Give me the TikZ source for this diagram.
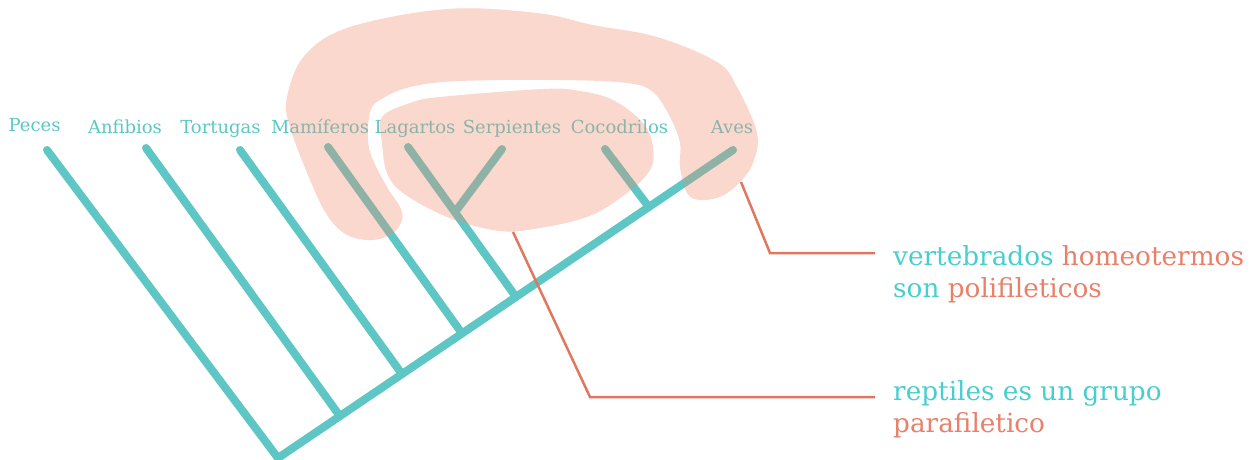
\documentclass[tikz,border=0pt]{standalone}
\usepackage{fontspec}
\setmainfont{DejaVu Serif}
\usetikzlibrary{calc}
\definecolor{treeteal}{RGB}{94,198,196}
\definecolor{labteal}{RGB}{91,200,197}
\definecolor{txtteal}{RGB}{72,206,206}
\definecolor{txtorange}{RGB}{232,128,106}
\definecolor{lineorange}{RGB}{224,120,95}
\definecolor{blobc}{RGB}{240,140,112}
\tikzset{
  branch/.style={draw=treeteal, line width=8pt, line cap=round, line join=round},
  taxon/.style={text=labteal, font=\fontsize{18}{20}\selectfont, anchor=base, inner sep=0pt},
  blob/.style={fill=blobc, fill opacity=0.34},
  pointer/.style={draw=lineorange, line width=2.5pt},
  note/.style={font=\fontsize{26.3}{32}\selectfont, align=left, anchor=base west, inner sep=0pt}
}
\begin{document}
\begin{tikzpicture}[x=1pt,y=-1pt]
\useasboundingbox (0,0) rectangle (1255,459);
% tree
\coordinate (root) at (278,458);
\coordinate (tAves) at (733,150);
\coordinate (tPeces) at (47,150);
\coordinate (tAnf) at (146,148);
\coordinate (tTort) at (240,150);
\coordinate (tMam) at (328,147);
\coordinate (tLag) at (408,147);
\coordinate (tSerp) at (502,149);
\coordinate (tCoc) at (605,149);
\coordinate (jAnf) at ($(root)!0.136!(tAves)$);
\coordinate (jTort) at ($(root)!0.2725!(tAves)$);
\coordinate (jMam) at ($(root)!0.4044!(tAves)$);
\coordinate (jLag) at ($(root)!0.523!(tAves)$);
\coordinate (jCoc) at ($(root)!0.815!(tAves)$);
\coordinate (jSerp) at ($(tLag)!0.435!(jLag)$);
\draw[branch] (tPeces) -- (root) -- (tAves);
\draw[branch] (tAnf) -- (jAnf);
\draw[branch] (tTort) -- (jTort);
\draw[branch] (tMam) -- (jMam);
\draw[branch] (tLag) -- (jLag);
\draw[branch] (tSerp) -- (jSerp);
\draw[branch] (tCoc) -- (jCoc);
% labels
\node[taxon] (lPeces) at (34.5,131) {Peces};
\node[taxon] (lAnf) at (125,133) {Anfibios};
\node[taxon] (lTort) at (220.5,133) {Tortugas};
\node[taxon] (lMam) at (320,133) {Mamíferos};
\node[taxon] (lLag) at (415,133) {Lagartos};
\node[taxon] (lSerp) at (512,133) {Serpientes};
\node[taxon] (lCoc) at (619.5,133) {Cocodrilos};
\node[taxon] (lAves) at (732,133) {Aves};
% blobs
\fill[blob] plot[smooth cycle, tension=0.6] coordinates {
 (287,97) (305,55) (350,27) (447,9) (537,13) (593,25) (657,37) (717,62)
 (737,87) (757,133) (753,163) (740,182) (722,196) (700,200) (687,193)
 (680,167) (680,143) (670,117) (653,92) (627,83) (560,80) (460,81)
 (410,87) (380,100) (370,112) (368,140) (373,160) (387,187) (400,207)
 (402,220) (393,233) (373,240) (347,235) (327,215) (310,180) (290,127)};
\fill[blob] plot[smooth cycle, tension=0.6] coordinates {
 (382,117) (410,103) (440,97) (543,89) (580,91) (613,100) (643,123)
 (653,147) (650,170) (627,193) (587,217) (527,230) (493,230) (447,217)
 (403,193) (387,173) (382,143)};
% notes
\node[note] (n1) at (893,297) {\textcolor{txtteal}{vertebrados} \textcolor{txtorange}{homeotermos}\\\textcolor{txtteal}{son} \textcolor{txtorange}{polifileticos}};
\node[note] (n2) at (893,432) {\textcolor{txtteal}{reptiles es un grupo}\\\textcolor{txtorange}{parafiletico}};
% pointers
\coordinate (p1s) at (741,182);
\coordinate (p1b) at (770,253);
\coordinate (p1e) at (875,253);
\coordinate (p2s) at (513,232);
\coordinate (p2b) at (590,397);
\coordinate (p2e) at (875,397);
\draw[pointer] (p1s) -- (p1b) -- (p1e);
\draw[pointer] (p2s) -- (p2b) -- (p2e);
\end{tikzpicture}
\end{document}
